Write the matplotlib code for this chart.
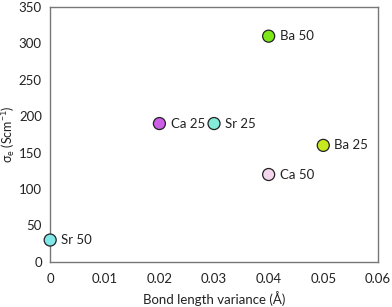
import matplotlib.pyplot as plt

# Bond length variance (A) vs electronic conductivity
labels = ["Sr 50", "Ca 25", "Sr 25", "Ba 50", "Ca 50", "Ba 25"]
variance = [0.0, 0.02, 0.03, 0.04, 0.04, 0.05]
sigma_e = [30, 190, 190, 310, 120, 160]
colors = ["#80e8e8", "#cc5ee8", "#84ecd8", "#7ce81a", "#f4d6ee", "#c6e81e"]

plt.rcParams['font.family'] = ['Lato', 'DejaVu Sans']

fig = plt.figure(figsize=(3.92, 3.07), dpi=100)
ax = fig.add_axes([0.128, 0.147, 0.836, 0.83])

ax.scatter(variance, sigma_e, s=75, c=colors, edgecolors="#222222",
           linewidths=0.9, zorder=3, clip_on=False)
for x, y, lab in zip(variance, sigma_e, labels):
    ax.annotate(lab, (x, y), xytext=(8, 0), textcoords="offset points",
                va="center", ha="left", fontsize=9.5, color="#222222")

ax.set_xlim(0, 0.06)
ax.set_ylim(0, 350)
ax.set_xticks([0, 0.01, 0.02, 0.03, 0.04, 0.05, 0.06])
ax.set_xticklabels(["0", "0.01", "0.02", "0.03", "0.04", "0.05", "0.06"])
ax.set_yticks(range(0, 351, 50))
ax.tick_params(axis="y", length=0, labelsize=9.5, pad=6, colors="#222222")
ax.tick_params(axis="x", length=0, labelsize=9.5, pad=8, colors="#222222")
for sp in ax.spines.values():
    sp.set_color("#777777")
    sp.set_linewidth(1)

ax.set_xlabel("Bond length variance (Å)", fontsize=9.5, color="#222222", labelpad=4)
ax.set_ylabel(r"σ$_\mathregular{e}$ (Scm$^\mathregular{-1}$)", fontsize=9,
              color="#222222")
ax.yaxis.set_label_coords(-0.1, 0.5)

fig.savefig("out.png", dpi=100)
